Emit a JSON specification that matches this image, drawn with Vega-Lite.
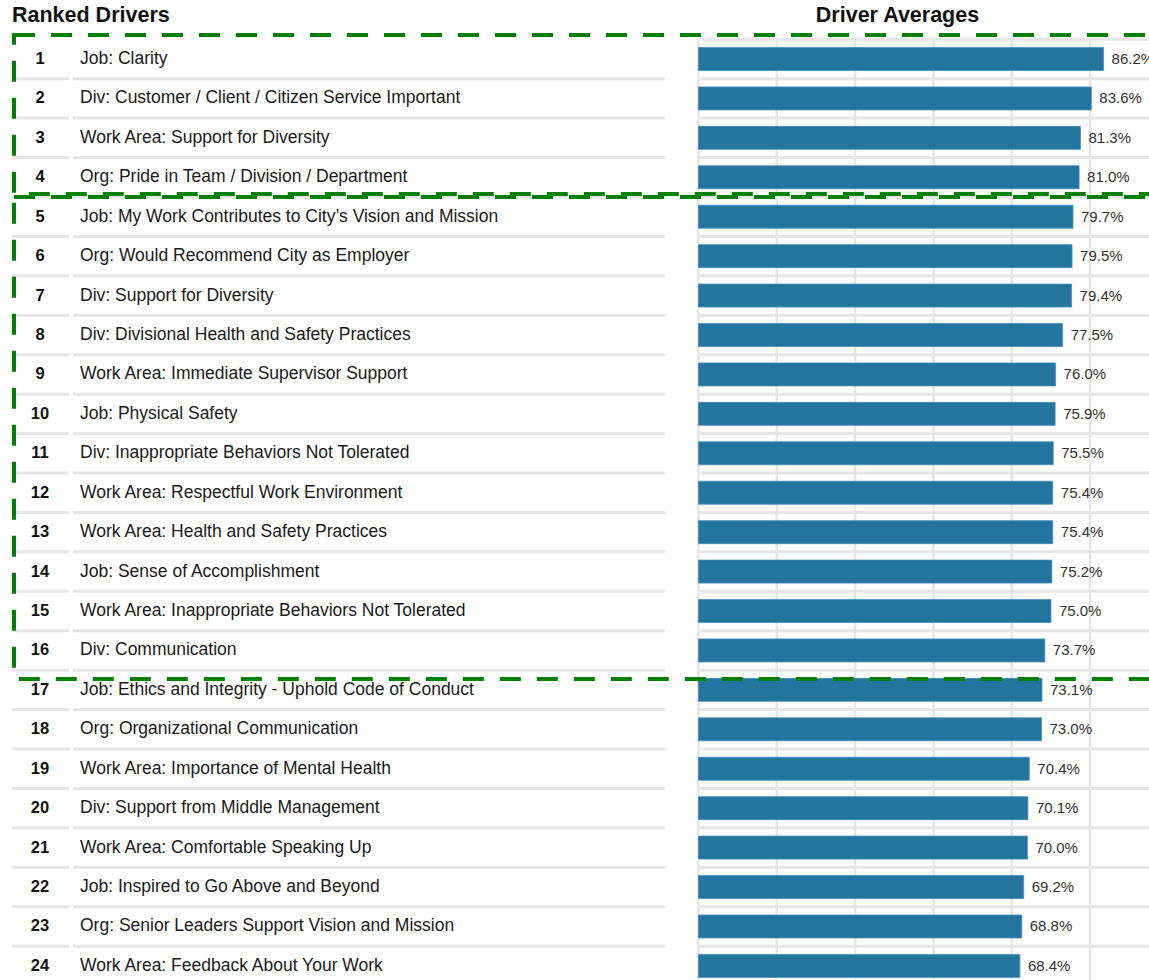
{
  "$schema": "https://vega.github.io/schema/vega-lite/v6.json",
  "width": 1149,
  "height": 980,
  "padding": 0,
  "autosize": {"type": "none"},
  "background": "white",
  "config": {"view": {"stroke": null}, "font": "Liberation Sans"},
  "datasets": {
    "drivers": [
      {"rank": 1, "label": "Job: Clarity", "value": 0.862},
      {"rank": 2, "label": "Div: Customer / Client / Citizen Service Important", "value": 0.836},
      {"rank": 3, "label": "Work Area: Support for Diversity", "value": 0.813},
      {"rank": 4, "label": "Org: Pride in Team / Division / Department", "value": 0.810},
      {"rank": 5, "label": "Job: My Work Contributes to City’s Vision and Mission", "value": 0.797},
      {"rank": 6, "label": "Org: Would Recommend City as Employer", "value": 0.795},
      {"rank": 7, "label": "Div: Support for Diversity", "value": 0.794},
      {"rank": 8, "label": "Div: Divisional Health and Safety Practices", "value": 0.775},
      {"rank": 9, "label": "Work Area: Immediate Supervisor Support", "value": 0.760},
      {"rank": 10, "label": "Job: Physical Safety", "value": 0.759},
      {"rank": 11, "label": "Div: Inappropriate Behaviors Not Tolerated", "value": 0.755},
      {"rank": 12, "label": "Work Area: Respectful Work Environment", "value": 0.754},
      {"rank": 13, "label": "Work Area: Health and Safety Practices", "value": 0.754},
      {"rank": 14, "label": "Job: Sense of Accomplishment", "value": 0.752},
      {"rank": 15, "label": "Work Area: Inappropriate Behaviors Not Tolerated", "value": 0.750},
      {"rank": 16, "label": "Div: Communication", "value": 0.737},
      {"rank": 17, "label": "Job: Ethics and Integrity - Uphold Code of Conduct", "value": 0.731},
      {"rank": 18, "label": "Org: Organizational Communication", "value": 0.730},
      {"rank": 19, "label": "Work Area: Importance of Mental Health", "value": 0.704},
      {"rank": 20, "label": "Div: Support from Middle Management", "value": 0.701},
      {"rank": 21, "label": "Work Area: Comfortable Speaking Up", "value": 0.700},
      {"rank": 22, "label": "Job: Inspired to Go Above and Beyond", "value": 0.692},
      {"rank": 23, "label": "Org: Senior Leaders Support Vision and Mission", "value": 0.688},
      {"rank": 24, "label": "Work Area: Feedback About Your Work", "value": 0.684}
    ],
    "ticks": [
      {"t": 0}, {"t": 0.16667}, {"t": 0.33333}, {"t": 0.5}, {"t": 0.66667}, {"t": 0.83333}
    ],
    "boxes": [
      {"group": "Top 4", "from": 0.392, "to": 4.424},
      {"group": "Top 16", "from": 4.5, "to": 16.724}
    ],
    "headers": [
      {"header": "Ranked Drivers", "where": "left"},
      {"header": "Driver Averages", "where": "right"}
    ]
  },
  "data": {"name": "drivers"},
  "encoding": {
    "y": {"type": "quantitative", "scale": {"domain": [-0.496, 24.358], "reverse": true, "nice": false, "zero": false, "padding": 0}, "axis": null},
    "x": {"type": "quantitative", "scale": {"domain": [-1.486, 0.9587], "nice": false, "zero": false, "padding": 0}, "axis": null}
  },
  "layer": [
    {
      "data": {"name": "ticks"},
      "mark": {"type": "rule", "color": "#e6e6e6", "strokeWidth": 2.5},
      "encoding": {
        "x": {"field": "t", "type": "quantitative"},
        "y": {"datum": 0.5},
        "y2": {"datum": 24.6}
      }
    },
    {
      "mark": {"type": "rule", "color": "#e6e6e6", "strokeWidth": 3, "yOffset": 19.7},
      "encoding": {
        "y": {"field": "rank", "type": "quantitative"},
        "x": {"datum": -1.4605},
        "x2": {"datum": -1.3392}
      }
    },
    {
      "mark": {"type": "rule", "color": "#e6e6e6", "strokeWidth": 3, "yOffset": 19.7},
      "encoding": {
        "y": {"field": "rank", "type": "quantitative"},
        "x": {"datum": -1.3307},
        "x2": {"datum": -0.0711}
      }
    },
    {
      "mark": {"type": "rule", "color": "#e6e6e6", "strokeWidth": 3, "yOffset": 19.7},
      "encoding": {
        "y": {"field": "rank", "type": "quantitative"},
        "x": {"datum": 0.004},
        "x2": {"datum": 0.9587}
      }
    },
    {
      "data": {"values": [{"edge": "top"}]},
      "mark": {"type": "rule", "color": "#e6e6e6", "strokeWidth": 3},
      "encoding": {
        "y": {"datum": 0.5},
        "x": {"datum": 0.004},
        "x2": {"datum": 0.9587}
      }
    },
    {
      "mark": {"type": "bar", "color": "#2474a0", "size": 23, "stroke": "#4a8fb8", "strokeWidth": 0.8},
      "encoding": {
        "y": {"field": "rank", "type": "quantitative"},
        "x": {"field": "value", "type": "quantitative"},
        "x2": {"datum": 0}
      }
    },
    {
      "mark": {"type": "text", "align": "left", "baseline": "middle", "dx": 8, "fontSize": 15, "color": "#333333"},
      "encoding": {
        "y": {"field": "rank", "type": "quantitative"},
        "x": {"field": "value", "type": "quantitative"},
        "text": {"field": "value", "type": "quantitative", "format": ".1%"}
      }
    },
    {
      "mark": {"type": "text", "align": "center", "baseline": "middle", "fontSize": 16.5, "fontWeight": "bold", "color": "#111111"},
      "encoding": {
        "y": {"field": "rank", "type": "quantitative"},
        "x": {"datum": -1.4009},
        "text": {"field": "rank", "type": "quantitative"}
      }
    },
    {
      "mark": {"type": "text", "align": "left", "baseline": "middle", "fontSize": 17.5, "color": "#1a1a1a"},
      "encoding": {
        "y": {"field": "rank", "type": "quantitative"},
        "x": {"datum": -1.3158},
        "text": {"field": "label", "type": "nominal"}
      }
    },
    {
      "data": {"name": "headers"},
      "transform": [{"filter": "datum.where == 'left'"}],
      "mark": {"type": "text", "align": "left", "baseline": "middle", "fontSize": 21.5, "fontWeight": "bold", "color": "#111111"},
      "encoding": {
        "y": {"datum": -0.09},
        "x": {"datum": -1.4605},
        "text": {"field": "header", "type": "nominal"}
      }
    },
    {
      "data": {"name": "headers"},
      "transform": [{"filter": "datum.where == 'right'"}],
      "mark": {"type": "text", "align": "center", "baseline": "middle", "fontSize": 21.5, "fontWeight": "bold", "color": "#111111"},
      "encoding": {
        "y": {"datum": -0.09},
        "x": {"datum": 0.4236},
        "text": {"field": "header", "type": "nominal"}
      }
    },
    {
      "data": {"name": "boxes"},
      "mark": {"type": "rect", "fill": null, "stroke": "#008000", "strokeWidth": 4, "strokeDash": [21, 16]},
      "encoding": {
        "y": {"field": "from", "type": "quantitative"},
        "y2": {"field": "to"},
        "x": {"datum": -1.4562},
        "x2": {"datum": 1.05}
      }
    }
  ]
}
